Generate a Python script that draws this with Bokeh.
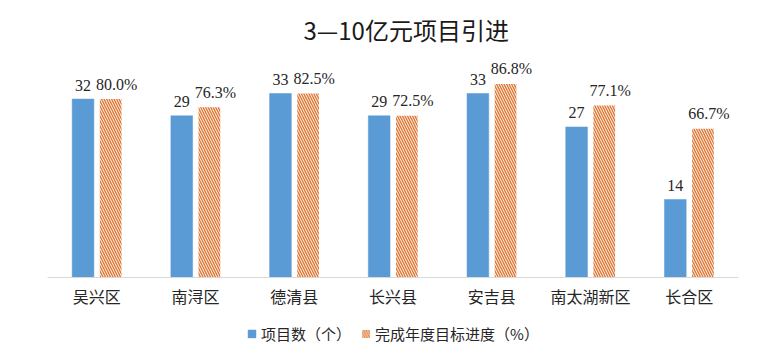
from bokeh.plotting import figure
from bokeh.layouts import column
from bokeh.models import ColumnDataSource, FactorRange, Range1d, LabelSet, Legend, LegendItem
from bokeh.transform import dodge
from bokeh.core.properties import value
from bokeh.embed import file_html
from bokeh.resources import INLINE

categories = ["吴兴区", "南浔区", "德清县", "长兴县", "安吉县", "南太湖新区", "长合区"]
project_counts = [32, 29, 33, 29, 33, 27, 14]
progress_pct = [80.0, 76.3, 82.5, 72.5, 86.8, 77.1, 66.7]
series_names = ["项目数（个）", "完成年度目标进度（%）"]
title_text = "3—10亿元项目引进"

BLUE = "#5B9BD5"
ORANGE = "#E07B39"
CJK = "Noto Sans CJK SC"
SERIF = "Liberation Serif"

source = ColumnDataSource(dict(
    cat=categories,
    count=project_counts,
    pct=progress_pct,
    count_label=[str(v) for v in project_counts],
    pct_label=["%.1f%%" % v for v in progress_pct],
))

blue_style = dict(fill_color=BLUE, line_color=BLUE, line_width=0.5)
hatch_style = dict(fill_color="white", line_color=None, hatch_pattern="\\",
                   hatch_color=ORANGE, hatch_scale=5, hatch_weight=1.5)

p = figure(
    x_range=FactorRange(*categories, range_padding=0),
    y_range=Range1d(0, 40),
    width=768, height=310,
    output_backend="svg", toolbar_location=None,
    y_axis_location=None,
    min_border_left=47, min_border_right=25,
    min_border_top=54, min_border_bottom=33,
)
p.extra_y_ranges = {"pct": Range1d(0, 100)}

p.title.text = title_text
p.title.text_font = CJK
p.title.text_font_size = "24px"
p.title.text_font_style = "normal"
p.title.text_color = "#1a1a1a"
p.title.align = "left"
p.title.offset = 256
p.title.standoff = 15

p.outline_line_color = None
p.xgrid.grid_line_color = None
p.ygrid.grid_line_color = None

b1 = p.vbar(x=dodge("cat", -0.14, range=p.x_range), top="count", width=0.22,
            source=source, **blue_style)
b2 = p.vbar(x=dodge("cat", 0.14, range=p.x_range), top="pct", width=0.22,
            source=source, y_range_name="pct", **hatch_style)

l1 = LabelSet(x=dodge("cat", -0.14, range=p.x_range), y="count", text="count_label",
              source=source, y_offset=14, text_align="center", text_baseline="middle",
              text_font=value(SERIF), text_font_size="16px", text_color="#262626")
l2 = LabelSet(x=dodge("cat", 0.14, range=p.x_range), y="pct", text="pct_label",
              source=source, y_range_name="pct", x_offset=6, y_offset=15,
              text_align="center", text_baseline="middle",
              text_font=value(SERIF), text_font_size="16px", text_color="#262626")
p.add_layout(l1)
p.add_layout(l2)

ax = p.xaxis[0]
ax.axis_line_color = "#d9d9d9"
ax.axis_line_width = 1
ax.major_tick_line_color = None
ax.minor_tick_line_color = None
ax.major_tick_out = 0
ax.major_tick_in = 0
ax.major_label_standoff = 6
ax.major_label_text_font = CJK
ax.major_label_text_font_size = "16px"
ax.major_label_text_color = "#262626"

# legend strip below the chart: same series as hidden renderers, used only for the legend
lf = figure(width=768, height=46, output_backend="svg", toolbar_location=None,
            x_range=FactorRange(*categories, range_padding=0), y_range=Range1d(0, 40),
            x_axis_location=None, y_axis_location=None,
            min_border_left=47, min_border_right=30, min_border_top=0, min_border_bottom=0)
lf.outline_line_color = None
lf.xgrid.grid_line_color = None
lf.ygrid.grid_line_color = None
g1 = lf.vbar(x=dodge("cat", -0.14, range=lf.x_range), top="count", width=0.22,
             source=source, **blue_style)
g2 = lf.vbar(x=dodge("cat", 0.14, range=lf.x_range), top="pct", width=0.22,
             source=source, **hatch_style)
g1.visible = False
g2.visible = False

legend = Legend(items=[LegendItem(label=series_names[0], renderers=[g1]),
                       LegendItem(label=series_names[1], renderers=[g2])],
                orientation="horizontal", location="center",
                glyph_width=10, glyph_height=10, label_standoff=5, spacing=9,
                label_text_font=CJK, label_text_font_size="15px", label_text_color="#262626",
                border_line_color=None, background_fill_color=None,
                inactive_fill_alpha=0,
                padding=0, margin=0, label_height=20)
lf.add_layout(legend)

layout = column(p, lf, spacing=0)
open("out.html", "w").write(file_html(layout, INLINE))
